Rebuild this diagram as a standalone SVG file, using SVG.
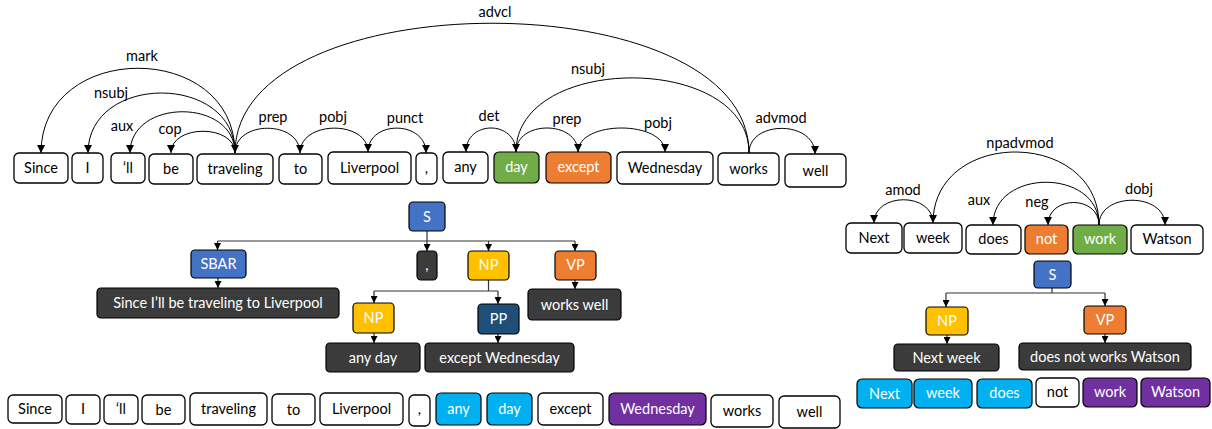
<svg xmlns="http://www.w3.org/2000/svg" width="1212" height="429" viewBox="0 0 1212 429">
<defs>
<style>
.w{fill:#fff;stroke:#000;stroke-width:1.3}
.blue{fill:#4472C4;stroke:#000;stroke-width:1.2}
.dark{fill:#3B3B3B;stroke:#000;stroke-width:1.2}
.navy{fill:#1F4E79;stroke:#000;stroke-width:1.2}
.green{fill:#70AD47;stroke:#000;stroke-width:1.2}
.orange{fill:#ED7D31;stroke:#000;stroke-width:1.2}
.yellow{fill:#FFC000;stroke:#000;stroke-width:1.2}
.cyan{fill:#00B0F0;stroke:#000;stroke-width:1.2}
.purple{fill:#7030A0;stroke:#000;stroke-width:1.2}
text{font-family:Lato,"Liberation Sans",sans-serif;font-size:14.5px;text-anchor:middle}
.tb{fill:#000}
.tw{fill:#fff}
.lbl{fill:#000}
.arc{fill:none;stroke:#000;stroke-width:1}
.tree{fill:none;stroke:#333;stroke-width:1.2}
</style>
<marker id="ah" viewBox="0 0 10 10" refX="10" refY="5" markerWidth="8" markerHeight="8" markerUnits="userSpaceOnUse" orient="auto">
<path d="M0,0 L10,5 L0,10 z" fill="#000"/>
</marker>
<marker id="ht" viewBox="0 0 10 10" refX="10" refY="5" markerWidth="7" markerHeight="7" markerUnits="userSpaceOnUse" orient="auto">
<path d="M0,0 L10,5 L0,10 z" fill="#000"/>
</marker>
</defs>
<rect width="1212" height="429" fill="#fff"/>

<g id="connectors">
<!-- top left dependency arcs -->
<path class="arc" marker-end="url(#ah)" d="M235 153 C235 40,41 40,41 153"/>
<path class="arc" marker-end="url(#ah)" d="M235 153 C235 73,88 73,88 153"/>
<path class="arc" marker-end="url(#ah)" d="M235 153 C235 98,130 98,130 153"/>
<path class="arc" marker-end="url(#ah)" d="M235 153 C235 124,171 124,171 153"/>
<path class="arc" marker-end="url(#ah)" d="M235 153 C235 120,300 120,300 153"/>
<path class="arc" marker-end="url(#ah)" d="M300 153 C300 120,368 120,368 152"/>
<path class="arc" marker-end="url(#ah)" d="M368 152 C368 120,426 120,426 153"/>
<path class="arc" marker-end="url(#ah)" d="M749 153 C749 -20,235 -20,235 153"/>
<path class="arc" marker-end="url(#ah)" d="M749 153 C749 53,516 53,516 152"/>
<path class="arc" marker-end="url(#ah)" d="M516 152 C516 120,466 120,466 152"/>
<path class="arc" marker-end="url(#ah)" d="M516 152 C516 120,578 120,578 152"/>
<path class="arc" marker-end="url(#ah)" d="M578 152 C578 120,665 120,665 152"/>
<path class="arc" marker-end="url(#ah)" d="M749 153 C749 120,815 120,815 154"/>
<!-- right dependency arcs -->
<path class="arc" marker-end="url(#ah)" d="M933 223 C933 192,874 192,874 223"/>
<path class="arc" marker-end="url(#ah)" d="M1099 225 C1099 128,933 128,933 223"/>
<path class="arc" marker-end="url(#ah)" d="M1099 225 C1099 168,993 168,993 225"/>
<path class="arc" marker-end="url(#ah)" d="M1099 225 C1099 195,1048 195,1048 225"/>
<path class="arc" marker-end="url(#ah)" d="M1099 225 C1099 192,1165 192,1165 225"/>
<!-- middle tree -->
<path class="tree" d="M427 231 V241 M217.5 241 H575"/>
<path class="tree" marker-end="url(#ht)" d="M217.5 241 V250"/>
<path class="tree" marker-end="url(#ht)" d="M427 241 V251"/>
<path class="tree" marker-end="url(#ht)" d="M488.5 241 V251"/>
<path class="tree" marker-end="url(#ht)" d="M575 241 V251"/>
<path class="tree" marker-end="url(#ht)" d="M218 278 V288"/>
<path class="tree" marker-end="url(#ht)" d="M575 280 V289"/>
<path class="tree" d="M488.5 280 V291 M374 291 H498"/>
<path class="tree" marker-end="url(#ht)" d="M374 291 V303"/>
<path class="tree" marker-end="url(#ht)" d="M498 291 V304"/>
<path class="tree" marker-end="url(#ht)" d="M374 333 V343"/>
<path class="tree" marker-end="url(#ht)" d="M498 334 V343"/>
<!-- right tree -->
<path class="tree" d="M1052 288 V293 M946 293 H1105"/>
<path class="tree" marker-end="url(#ht)" d="M946 293 V307"/>
<path class="tree" marker-end="url(#ht)" d="M1105 293 V306"/>
<path class="tree" marker-end="url(#ht)" d="M947 335 V344"/>
<path class="tree" marker-end="url(#ht)" d="M1105 334 V343"/>
</g>

<g id="arc-labels">
<text class="lbl" x="142" y="61">mark</text>
<text class="lbl" x="111" y="98">nsubj</text>
<text class="lbl" x="122" y="131">aux</text>
<text class="lbl" x="170" y="134">cop</text>
<text class="lbl" x="273" y="122">prep</text>
<text class="lbl" x="333" y="122">pobj</text>
<text class="lbl" x="405" y="123">punct</text>
<text class="lbl" x="495" y="17">advcl</text>
<text class="lbl" x="588" y="74">nsubj</text>
<text class="lbl" x="489" y="121">det</text>
<text class="lbl" x="567" y="124">prep</text>
<text class="lbl" x="658" y="128">pobj</text>
<text class="lbl" x="781" y="123">advmod</text>
<text class="lbl" x="903" y="195">amod</text>
<text class="lbl" x="1020" y="148">npadvmod</text>
<text class="lbl" x="979" y="205">aux</text>
<text class="lbl" x="1037" y="207">neg</text>
<text class="lbl" x="1139" y="194">dobj</text>
</g>

<!-- top row words -->
<g id="w-since"><rect class="w" x="14" y="153" width="54" height="30" rx="5"/><text class="tb" x="41" y="173">Since</text></g>
<g id="w-i"><rect class="w" x="72" y="153" width="31" height="30" rx="5"/><text class="tb" x="87.5" y="173">I</text></g>
<g id="w-ll"><rect class="w" x="111" y="153" width="34" height="30" rx="5"/><text class="tb" x="128" y="173">‘ll</text></g>
<g id="w-be"><rect class="w" x="149" y="154" width="44" height="30" rx="5"/><text class="tb" x="171" y="174">be</text></g>
<g id="w-traveling"><rect class="w" x="197" y="154" width="76" height="30" rx="5"/><text class="tb" x="235" y="174">traveling</text></g>
<g id="w-to"><rect class="w" x="279" y="154" width="43" height="30" rx="5"/><text class="tb" x="300.5" y="174">to</text></g>
<g id="w-liverpool"><rect class="w" x="328" y="152" width="83" height="32" rx="5"/><text class="tb" x="369.5" y="173">Liverpool</text></g>
<g id="w-comma"><rect class="w" x="416" y="153" width="21" height="31" rx="5"/><text class="tb" x="426.5" y="173">,</text></g>
<g id="w-any"><rect class="w" x="443" y="152" width="45" height="31" rx="5"/><text class="tb" x="465.5" y="172">any</text></g>
<g id="w-day"><rect class="green" x="494" y="152" width="45" height="31" rx="5"/><text class="tw" x="516.5" y="172">day</text></g>
<g id="w-except"><rect class="orange" x="546" y="152" width="65" height="31" rx="5"/><text class="tw" x="578.5" y="172">except</text></g>
<g id="w-wednesday"><rect class="w" x="617" y="152" width="96" height="32" rx="5"/><text class="tb" x="665" y="173">Wednesday</text></g>
<g id="w-works"><rect class="w" x="718" y="153" width="61" height="32" rx="5"/><text class="tb" x="748.5" y="174">works</text></g>
<g id="w-well"><rect class="w" x="785" y="154" width="61" height="33" rx="5"/><text class="tb" x="815.5" y="176">well</text></g>

<!-- middle tree nodes -->
<g id="t-s"><rect class="blue" x="409" y="202" width="36" height="29" rx="4"/><text class="tw" x="427" y="221.5">S</text></g>
<g id="t-sbar"><rect class="blue" x="191" y="250" width="55" height="28" rx="4"/><text class="tw" x="218.5" y="269">SBAR</text></g>
<g id="t-comma"><rect class="dark" x="417" y="251" width="20" height="29" rx="4"/><text class="tw" x="427" y="270">,</text></g>
<g id="t-np"><rect class="yellow" x="468" y="251" width="41" height="29" rx="4"/><text class="tw" x="488.5" y="270">NP</text></g>
<g id="t-vp"><rect class="orange" x="555" y="251" width="41" height="29" rx="4"/><text class="tw" x="575.5" y="270">VP</text></g>
<g id="t-sbar-text"><rect class="dark" x="97" y="288" width="242" height="30" rx="4"/><text class="tw" x="218" y="308">Since I’ll be traveling to Liverpool</text></g>
<g id="t-vp-text"><rect class="dark" x="528" y="289" width="93" height="31" rx="4"/><text class="tw" x="574.5" y="309.5">works well</text></g>
<g id="t-np2"><rect class="yellow" x="353" y="303" width="41" height="30" rx="4"/><text class="tw" x="373.5" y="323">NP</text></g>
<g id="t-pp"><rect class="navy" x="478" y="304" width="41" height="30" rx="4"/><text class="tw" x="498.5" y="324">PP</text></g>
<g id="t-anyday"><rect class="dark" x="326" y="343" width="94" height="29" rx="4"/><text class="tw" x="373" y="362.5">any day</text></g>
<g id="t-exceptwed"><rect class="dark" x="425" y="343" width="149" height="29" rx="4"/><text class="tw" x="499.5" y="362.5">except Wednesday</text></g>

<!-- bottom row words -->
<g id="b-since"><rect class="w" x="8" y="395" width="54" height="28" rx="5"/><text class="tb" x="35" y="414">Since</text></g>
<g id="b-i"><rect class="w" x="66" y="395" width="34" height="29" rx="5"/><text class="tb" x="83" y="414">I</text></g>
<g id="b-ll"><rect class="w" x="104" y="395" width="34" height="29" rx="5"/><text class="tb" x="121" y="414">‘ll</text></g>
<g id="b-be"><rect class="w" x="142" y="395" width="43" height="29" rx="5"/><text class="tb" x="163.5" y="415">be</text></g>
<g id="b-traveling"><rect class="w" x="190" y="393" width="77" height="32" rx="5"/><text class="tb" x="228.5" y="414">traveling</text></g>
<g id="b-to"><rect class="w" x="272" y="394" width="43" height="31" rx="5"/><text class="tb" x="293.5" y="415">to</text></g>
<g id="b-liverpool"><rect class="w" x="320" y="393" width="83" height="32" rx="5"/><text class="tb" x="361.5" y="414">Liverpool</text></g>
<g id="b-comma"><rect class="w" x="409" y="395" width="21" height="31" rx="5"/><text class="tb" x="419.5" y="414">,</text></g>
<g id="b-any"><rect class="cyan" x="436" y="393" width="45" height="32" rx="5"/><text class="tw" x="458.5" y="414">any</text></g>
<g id="b-day"><rect class="cyan" x="487" y="393" width="45" height="32" rx="5"/><text class="tw" x="509.5" y="414">day</text></g>
<g id="b-except"><rect class="w" x="538" y="393" width="65" height="32" rx="5"/><text class="tb" x="570.5" y="414">except</text></g>
<g id="b-wednesday"><rect class="purple" x="609" y="393" width="97" height="32" rx="5"/><text class="tw" x="657.5" y="414">Wednesday</text></g>
<g id="b-works"><rect class="w" x="711" y="395" width="62" height="32" rx="5"/><text class="tb" x="742" y="416">works</text></g>
<g id="b-well"><rect class="w" x="779" y="396" width="61" height="32" rx="5"/><text class="tb" x="809.5" y="417">well</text></g>

<!-- right top row words -->
<g id="r-next"><rect class="w" x="846" y="223" width="56" height="30" rx="5"/><text class="tb" x="874" y="243">Next</text></g>
<g id="r-week"><rect class="w" x="904" y="223" width="58" height="30" rx="5"/><text class="tb" x="933" y="243">week</text></g>
<g id="r-does"><rect class="w" x="966" y="225" width="55" height="29" rx="5"/><text class="tb" x="993.5" y="244">does</text></g>
<g id="r-not"><rect class="orange" x="1025" y="225" width="43" height="29" rx="5"/><text class="tw" x="1046.5" y="244">not</text></g>
<g id="r-work"><rect class="green" x="1073" y="225" width="54" height="29" rx="5"/><text class="tw" x="1100" y="244">work</text></g>
<g id="r-watson"><rect class="w" x="1131" y="225" width="72" height="29" rx="5"/><text class="tb" x="1167" y="244">Watson</text></g>

<!-- right tree nodes -->
<g id="rt-s"><rect class="blue" x="1034" y="261" width="37" height="27" rx="4"/><text class="tw" x="1052.5" y="279.5">S</text></g>
<g id="rt-np"><rect class="yellow" x="926" y="307" width="42" height="28" rx="4"/><text class="tw" x="947" y="326">NP</text></g>
<g id="rt-vp"><rect class="orange" x="1084" y="306" width="42" height="28" rx="4"/><text class="tw" x="1105" y="325">VP</text></g>
<g id="rt-np-text"><rect class="dark" x="894" y="344" width="105" height="27" rx="4"/><text class="tw" x="946.5" y="362.5">Next week</text></g>
<g id="rt-vp-text"><rect class="dark" x="1019" y="343" width="172" height="27" rx="4"/><text class="tw" x="1105" y="361.5">does not works Watson</text></g>

<!-- right bottom row -->
<g id="rb-next"><rect class="cyan" x="857" y="379" width="55" height="29" rx="5"/><text class="tw" x="884.5" y="399">Next</text></g>
<g id="rb-week"><rect class="cyan" x="914" y="379" width="58" height="29" rx="5"/><text class="tw" x="943" y="398">week</text></g>
<g id="rb-does"><rect class="cyan" x="977" y="379" width="55" height="29" rx="5"/><text class="tw" x="1004.5" y="398">does</text></g>
<g id="rb-not"><rect class="w" x="1036" y="378" width="43" height="29" rx="5"/><text class="tb" x="1057.5" y="397">not</text></g>
<g id="rb-work"><rect class="purple" x="1083" y="378" width="54" height="29" rx="5"/><text class="tw" x="1110" y="397">work</text></g>
<g id="rb-watson"><rect class="purple" x="1141" y="378" width="69" height="29" rx="5"/><text class="tw" x="1175.5" y="397">Watson</text></g>
</svg>
